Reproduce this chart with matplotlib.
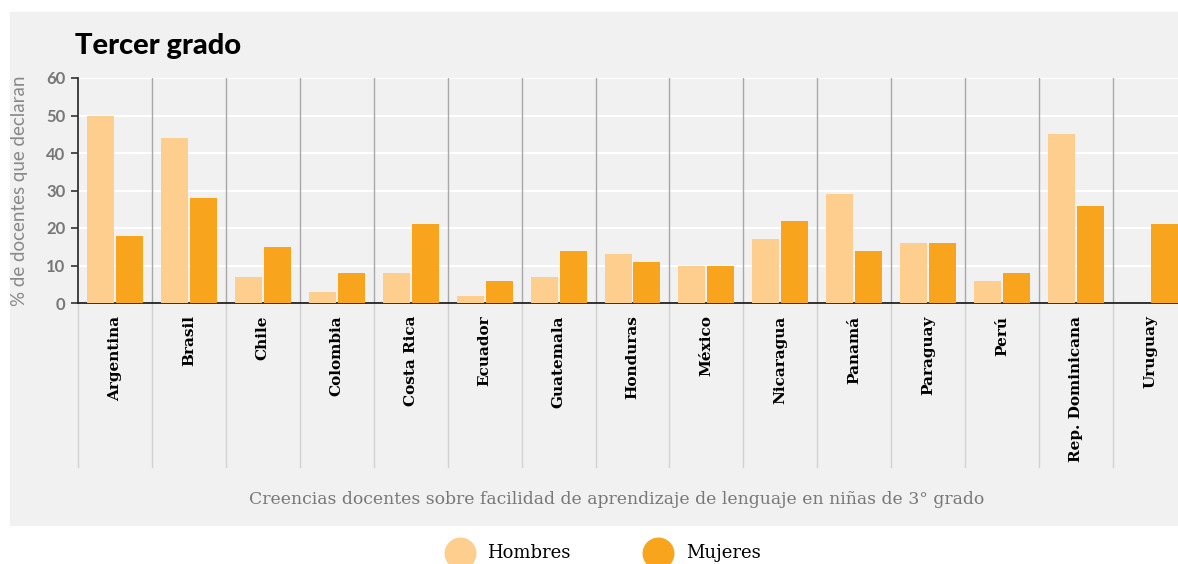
import numpy as np
import matplotlib.pyplot as plt
from matplotlib.patches import Rectangle
from matplotlib.lines import Line2D

paises = ["Argentina", "Brasil", "Chile", "Colombia", "Costa Rica", "Ecuador",
          "Guatemala", "Honduras", "México", "Nicaragua", "Panamá", "Paraguay",
          "Perú", "Rep. Dominicana", "Uruguay"]
hombres = [50, 44, 7, 3, 8, 2, 7, 13, 10, 17, 29, 16, 6, 45, np.nan]
mujeres = [18, 28, 15, 8, 21, 6, 14, 11, 10, 22, 14, 16, 8, 26, 21]
yticks = [0, 10, 20, 30, 40, 50, 60]

c_hom = "#FECE8E"
c_muj = "#F8A51D"
bg = "#F1F1F1"

W, H = 1178, 564
fig = plt.figure(figsize=(W / 100, H / 100), dpi=100)

# grey panel
fig.patches.append(Rectangle((10 / W, 1 - 525 / H), (W - 10) / W, 513 / H,
                             transform=fig.transFigure, color=bg, zorder=-5))

ax = fig.add_axes([78 / W, 1 - 303 / H, 1109 / W, 225 / H])
ax.set_facecolor(bg)

x = np.arange(len(paises))
bw = 0.365
off = 0.196
ax.bar(x - off, hombres, bw, color=c_hom, zorder=3)
ax.bar(x + off, mujeres, bw, color=c_muj, zorder=3)

ax.set_xlim(-0.5, len(paises) - 0.5)
ax.set_ylim(0, 60)
ax.set_yticks(yticks)
ax.yaxis.grid(True, color="white", linewidth=1.5, zorder=1)
ax.set_axisbelow(True)

# separators between countries
for i in range(1, len(paises)):
    ax.plot([i - 0.5, i - 0.5], [0, 60], color="#A8A8A8", lw=1, zorder=2)
for i in range(0, len(paises)):
    ax.plot([i - 0.5, i - 0.5], [0, -43.7], color="#D2D2D2", lw=1,
            zorder=2, clip_on=False)

for s in ["top", "right"]:
    ax.spines[s].set_visible(False)
ax.spines["left"].set_color("#333333")
ax.spines["bottom"].set_color("#222222")
ax.spines["bottom"].set_linewidth(1.3)
ax.spines["left"].set_linewidth(1.3)

ax.set_xticks(x)
ax.set_xticklabels(paises, rotation=90, va="top", ha="center",
                   fontfamily="DejaVu Serif", fontweight="bold", fontsize=11)
ax.tick_params(axis="x", length=0, pad=9)
ax.tick_params(axis="y", length=5, width=1.2, color="#333333", pad=4,
               labelsize=12, labelcolor="#777777")
for t in ax.get_yticklabels():
    t.set_fontfamily("Lato")
    t.set_fontweight("bold")

fig.text(75 / W, 1 - 46 / H, "Tercer grado", fontfamily="Lato",
         fontweight="black", fontsize=21, va="center", ha="left", color="black")
fig.text(20 / W, 1 - 191 / H, "% de docentes que declaran", rotation=90,
         fontfamily="Lato", fontsize=13.5, color="#888888", va="center", ha="center")
fig.text(617 / W, 1 - 500 / H,
         "Creencias docentes sobre facilidad de aprendizaje de lenguaje en niñas de 3° grado",
         fontfamily="DejaVu Serif", fontsize=12.4, color="#777777",
         va="center", ha="center")

# legend
for cx, tx, col, lab in [(460, 487, c_hom, "Hombres"), (658, 686, c_muj, "Mujeres")]:
    fig.lines.append(Line2D([cx / W], [1 - 553 / H], marker="o", markersize=22,
                            color=col, transform=fig.transFigure))
    fig.text(tx / W, 1 - 553 / H, lab, fontfamily="DejaVu Serif", fontsize=13,
             color="black", va="center", ha="left")

fig.savefig("out.png", dpi=100, facecolor="white")
